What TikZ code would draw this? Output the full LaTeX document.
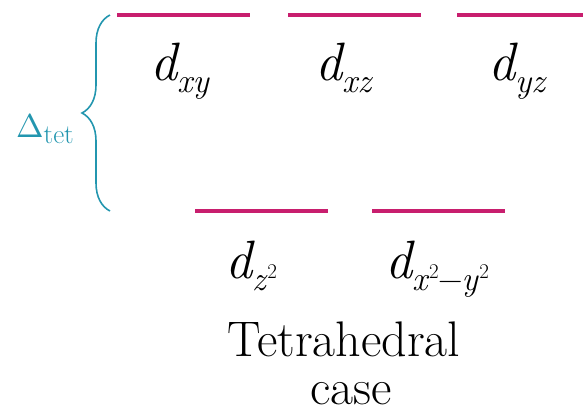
\documentclass[tikz,border=0pt]{standalone}
\usepackage{fontspec}
\usepackage{graphicx}
\usetikzlibrary{decorations.pathreplacing}
\definecolor{lvl}{RGB}{200,30,110}
\definecolor{brc}{RGB}{35,150,175}
\newcommand{\orbsub}[1]{\raisebox{-12pt}{\fontsize{34}{34}\selectfont\itshape #1}}
\newcommand{\orbsq}{\kern1.5pt\raisebox{12pt}{\fontsize{21}{21}\selectfont\upshape 2}}
\tikzset{
  level/.style={draw=lvl, line width=4.5pt},
  orb/.style={font=\fontsize{54}{58}\selectfont\itshape, inner sep=0pt, anchor=base west},
  captext/.style={font=\fontsize{50}{54}\selectfont, inner sep=0pt, anchor=base}
}
\begin{document}
\begin{tikzpicture}[x=1pt,y=-1pt]
\useasboundingbox (0,0) rectangle (583,413);
% levels
\coordinate (a1) at (117,15); \coordinate (a2) at (250,15);
\coordinate (b1) at (288,15); \coordinate (b2) at (421,15);
\coordinate (c1) at (457,15); \coordinate (c2) at (583,15);
\coordinate (e1) at (195,211); \coordinate (e2) at (328,211);
\coordinate (f1) at (372,211); \coordinate (f2) at (505,211);
\draw[level] (a1) -- (a2);
\draw[level] (b1) -- (b2);
\draw[level] (c1) -- (c2);
\draw[level] (e1) -- (e2);
\draw[level] (f1) -- (f2);
\node[orb] (dxy) at (150,80) {d\orbsub{xy}};
\node[orb] (dxz) at (315,80) {d\orbsub{xz}};
\node[orb] (dyz) at (488,80) {d\orbsub{yz}};
\node[orb] (dz2) at (225,278) {d\orbsub{z\orbsq}};
\node[orb] (dx2) at (385,278) {d\orbsub{x\orbsq\kern-0.5pt{\upshape −}\kern-1pt y\orbsq}};
\node[captext] (cap1) at (344,356) {Tetrahedral};
\node[captext] (cap2) at (351,404) {case};
% brace
\coordinate (bb) at (110,211);
\coordinate (bt) at (110,15);
\draw[brc, line width=1.6pt, decorate, decoration={brace, amplitude=28pt}] (bb) -- (bt);
\node[text=brc, inner sep=0pt, anchor=base west] (dtet) at (16,137) {\scalebox{3.3}{$\Delta$}\raisebox{-6pt}{\fontsize{27}{27}\selectfont tet}};
\end{tikzpicture}
\end{document}
